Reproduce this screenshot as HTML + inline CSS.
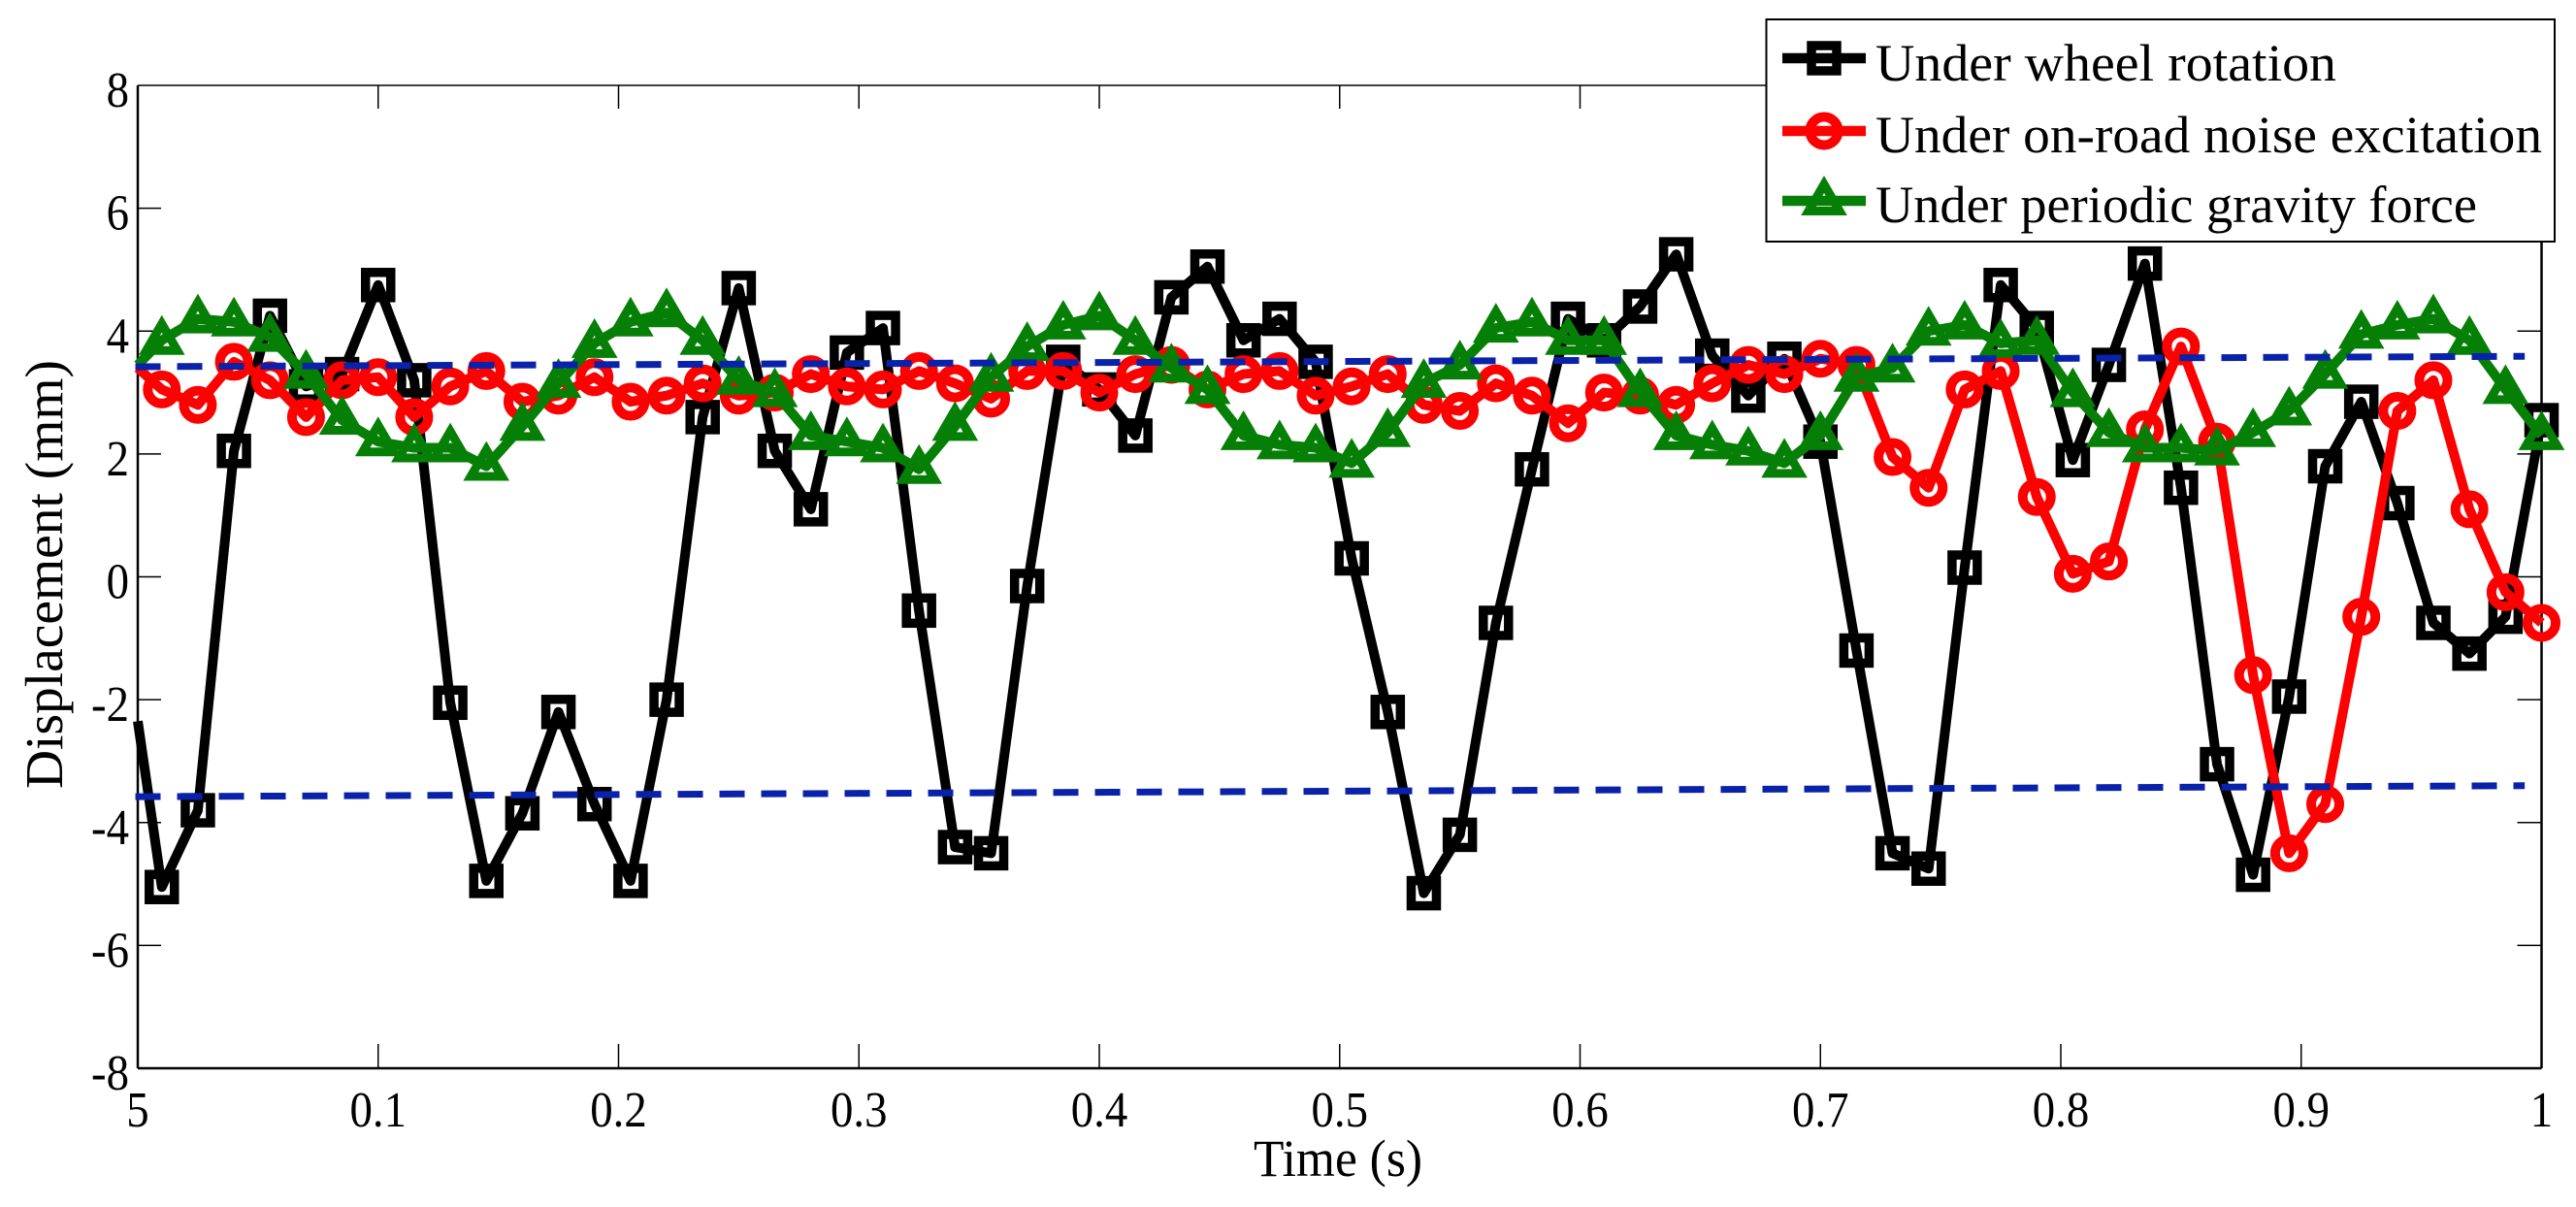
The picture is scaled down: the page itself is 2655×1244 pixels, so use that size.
<!DOCTYPE html>
<html lang="en">
<head>
<meta charset="utf-8">
<title>Displacement vs Time</title>
<style>
html,body{margin:0;padding:0;background:#fff;width:2655px;height:1244px;overflow:hidden}
svg{display:block}
text{font-family:"Liberation Serif",serif;fill:#000}
</style>
</head>
<body>
<svg id="chart" xmlns="http://www.w3.org/2000/svg" width="2655" height="1244" viewBox="0 0 2655 1244">
  <rect x="0" y="0" width="2655" height="1244" fill="#fff"/>
  <g id="axes"></g>
  <g id="series"></g>
  <text x="1379" y="1212" font-size="54" text-anchor="middle" textLength="174" lengthAdjust="spacingAndGlyphs">Time (s)</text>
  <text transform="translate(64,592) rotate(-90)" font-size="55" text-anchor="middle" textLength="442" lengthAdjust="spacingAndGlyphs">Displacement (mm)</text>
  <g id="legend">
    <rect x="1820.5" y="20" width="812.5" height="229" fill="#fff" stroke="#000" stroke-width="2"/>
    <text x="1933" y="83" font-size="54" textLength="475" lengthAdjust="spacingAndGlyphs">Under wheel rotation</text>
    <text x="1933" y="157" font-size="54" textLength="687" lengthAdjust="spacingAndGlyphs">Under on-road noise excitation</text>
    <text x="1933" y="229" font-size="54" textLength="620" lengthAdjust="spacingAndGlyphs">Under periodic gravity force</text>
  </g>
</svg>
<script>
var times = [0,0.01,0.025,0.04,0.055,0.07,0.085,0.1,0.115,0.13,0.145,0.16,0.175,0.19,0.205,0.22,0.235,0.25,0.265,0.28,0.295,0.31,0.325,0.34,0.355,0.37,0.385,0.4,0.415,0.43,0.445,0.46,0.475,0.49,0.505,0.52,0.535,0.55,0.565,0.58,0.595,0.61,0.625,0.64,0.655,0.67,0.685,0.7,0.715,0.73,0.745,0.76,0.775,0.79,0.805,0.82,0.835,0.85,0.865,0.88,0.895,0.91,0.925,0.94,0.955,0.97,0.985,1];
var wheelRotation = [-2.35,-5.05,-3.8,2.05,4.25,3.1,3.3,4.75,3.2,-2.05,-4.95,-3.85,-2.2,-3.7,-4.95,-2,2.6,4.7,2.05,1.1,3.65,4.05,-0.55,-4.4,-4.5,-0.15,3.5,3.05,2.3,4.55,5.05,3.85,4.2,3.5,0.3,-2.2,-5.15,-4.2,-0.75,1.75,4.2,3.85,4.4,5.25,3.6,2.95,3.55,2.2,-1.2,-4.5,-4.75,0.15,4.75,4.05,1.9,3.45,5.1,1.45,-3.05,-4.85,-1.95,1.8,2.85,1.2,-0.75,-1.25,-0.65,2.55];
var noiseExcitation = [3.4,3.05,2.8,3.5,3.2,2.6,3.2,3.25,2.6,3.1,3.35,2.85,2.95,3.25,2.85,2.95,3.15,2.95,3,3.3,3.1,3.05,3.35,3.15,2.9,3.35,3.35,3,3.3,3.45,3.05,3.3,3.35,2.95,3.1,3.3,2.8,2.7,3.15,2.95,2.5,3,2.95,2.8,3.15,3.45,3.3,3.55,3.45,1.95,1.45,3.05,3.35,1.3,0.05,0.25,2.4,3.75,2.2,-1.6,-4.5,-3.7,-0.65,2.7,3.2,1.1,-0.25,-0.75];
var gravityForce = [3.45,3.85,4.2,4.15,3.9,3.3,2.55,2.2,2.1,2.1,1.8,2.45,3.15,3.8,4.15,4.3,3.85,3.2,3,2.3,2.2,2.1,1.75,2.45,3.25,3.75,4.1,4.25,3.85,3.4,3.05,2.3,2.15,2.1,1.85,2.35,3.15,3.45,4.05,4.15,3.85,3.85,3,2.3,2.15,2.05,1.85,2.3,3.25,3.4,4,4.1,3.8,3.85,3,2.35,2.1,2.1,2.05,2.35,2.7,3.3,3.95,4.1,4.2,3.85,3.05,2.3];
var boundTimes = [-0.001,0.993];
var upperBound = [3.42,3.59];
var lowerBound = [-3.58,-3.4];
var xTickValues = [0,0.1,0.2,0.3,0.4,0.5,0.6,0.7,0.8,0.9,1];
var xTickLabels = ['5','0.1','0.2','0.3','0.4','0.5','0.6','0.7','0.8','0.9','1'];
var yTickValues = [-8,-6,-4,-2,0,2,4,6,8];
var yTickLabels = ['-8','-6','-4','-2','0','2','4','6','8'];

var NS = 'http://www.w3.org/2000/svg';
var plot = {left:142, right:2619.5, top:88, bottom:1101};
var xDomain = [0,1];
var yDomain = [-8,8];
function xScale(t){ return plot.left + (t-xDomain[0])/(xDomain[1]-xDomain[0])*(plot.right-plot.left); }
function yScale(v){ return plot.bottom - (v-yDomain[0])/(yDomain[1]-yDomain[0])*(plot.bottom-plot.top); }
function mk(tag, parent){ var e=document.createElementNS(NS,tag); parent.appendChild(e); return e; }

var axes = document.getElementById('axes');
var seriesLayer = document.getElementById('series');
var legend = document.getElementById('legend');

function axisLine(x1,y1,x2,y2,w,name){
  var l = mk('line',axes);
  l.setAttribute('x1',x1); l.setAttribute('y1',y1); l.setAttribute('x2',x2); l.setAttribute('y2',y2);
  l.setAttribute('stroke','#000'); l.setAttribute('stroke-width',w);
  
  
}
axisLine(plot.left,plot.top,plot.right,plot.top,1.5,'plot-top-border');
axisLine(plot.left,plot.bottom,plot.right,plot.bottom,2.5,'plot-bottom-border');
axisLine(plot.left,plot.top,plot.left,plot.bottom,2.5,'plot-left-border');
axisLine(plot.right,plot.top,plot.right,plot.bottom,2.5,'plot-right-border');

xTickValues.forEach(function(t,i){
  var x = xScale(t);
  if(i>0 && i<xTickValues.length-1){
    axisLine(x,plot.bottom,x,plot.bottom-25,1.5,'x-tick-bottom');
    axisLine(x,plot.top,x,plot.top+24,1.5,'x-tick-top');
  }
  var lab = mk('text',axes);
  lab.setAttribute('transform','translate('+x+',1161) scale(0.9,1)');
  lab.setAttribute('font-size','52');
  lab.setAttribute('text-anchor','middle');
  
  
  lab.textContent = xTickLabels[i];
});
yTickValues.forEach(function(v,i){
  var y = yScale(v);
  if(i>0 && i<yTickValues.length-1){
    axisLine(plot.left,y,plot.left+24,y,1.5,'y-tick-left');
    axisLine(plot.right,y,plot.right-25,y,1.5,'y-tick-right');
  }
  var lab = mk('text',axes);
  lab.setAttribute('transform','translate(133,'+(y+22)+') scale(0.9,1)');
  lab.setAttribute('font-size','52');
  lab.setAttribute('text-anchor','end');
  
  
  lab.textContent = yTickLabels[i];
});

function drawMarker(kind,color,x,y,parent){
  var m;
  if(kind==='square'){
    m = mk('rect',parent);
    m.setAttribute('x',x-13); m.setAttribute('y',y-13);
    m.setAttribute('width',26); m.setAttribute('height',26);
    m.setAttribute('stroke-width',9.5);
  } else if(kind==='circle'){
    m = mk('ellipse',parent);
    m.setAttribute('cx',x); m.setAttribute('cy',y);
    m.setAttribute('rx',14.5); m.setAttribute('ry',14.5);
    m.setAttribute('stroke-width',10);
  } else {
    m = mk('polygon',parent);
    m.setAttribute('points',(x)+','+(y-17)+' '+(x+16)+','+(y+10.5)+' '+(x-16)+','+(y+10.5));
    m.setAttribute('stroke-width',9);
    m.setAttribute('stroke-miterlimit',10);
  }
  m.setAttribute('fill','none');
  m.setAttribute('stroke',color);
  
  
}
function drawSeries(values,color,kind,name){
  var g = mk('g',seriesLayer);
  
  
  var p = mk('polyline',g);
  p.setAttribute('points',values.map(function(v,i){ return xScale(times[i])+','+yScale(v); }).join(' '));
  p.setAttribute('fill','none');
  p.setAttribute('stroke',color);
  p.setAttribute('stroke-width',10);
  p.setAttribute('stroke-linejoin','round');
  
  
  values.forEach(function(v,i){
    if(i===0) return;
    drawMarker(kind,color,xScale(times[i]),yScale(v),g);
  });
}
drawSeries(wheelRotation,'#000','square','series-wheel-rotation');
drawSeries(noiseExcitation,'#ff0000','circle','series-noise-excitation');
drawSeries(gravityForce,'#067f06','triangle','series-gravity-force');

function drawBound(values,name){
  var l = mk('line',seriesLayer);
  l.setAttribute('x1',xScale(boundTimes[0])); l.setAttribute('y1',yScale(values[0]));
  l.setAttribute('x2',xScale(boundTimes[1])); l.setAttribute('y2',yScale(values[1]));
  l.setAttribute('stroke','#0a22aa');
  l.setAttribute('stroke-width',7);
  l.setAttribute('stroke-dasharray','26 17');
  
  
}
drawBound(upperBound,'upper-bound-dashed-line');
drawBound(lowerBound,'lower-bound-dashed-line');

function legendSample(y,color,kind,name){
  var g = mk('g',legend);
  
  
  var l = mk('line',g);
  l.setAttribute('x1',1837); l.setAttribute('x2',1923);
  l.setAttribute('y1',y); l.setAttribute('y2',y);
  l.setAttribute('stroke',color); l.setAttribute('stroke-width',10.5);
  
  
  drawMarker(kind,color,1880,y,g);
}
legendSample(60,'#000','square','legend-sample-wheel-rotation');
legendSample(135,'#ff0000','circle','legend-sample-noise-excitation');
legendSample(207,'#067f06','triangle','legend-sample-gravity-force');
</script>
</body>
</html>
